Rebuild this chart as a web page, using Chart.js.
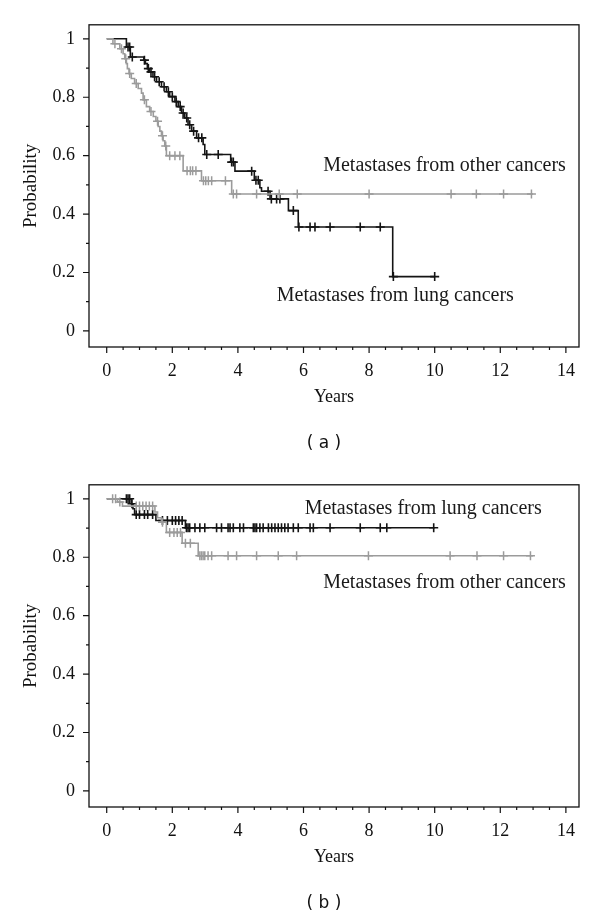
<!DOCTYPE html>
<html>
<head>
<meta charset="utf-8">
<script src="https://cdn.jsdelivr.net/npm/chart.js@4.4.1/dist/chart.umd.min.js"></script>
<style>
  body { margin: 0; background: #fff; }
  .panel { position: relative; width: 600px; height: 460px; }
  .cap { position: absolute; left: 0; width: 648px; text-align: center; top: 432px;
         font: 17px "DejaVu Sans", sans-serif; color: #111; }
</style>
</head>
<body>
<div class="panel"><canvas id="chartA" width="600" height="460"></canvas><div class="cap">( a )</div></div>
<div class="panel"><canvas id="chartB" width="600" height="460"></canvas><div class="cap">( b )</div></div>
<script>
// panel (a): step times and survival after each step, censor times
const aLungTimes = [0.60, 0.72, 1.13, 1.18, 1.24, 1.30, 1.41, 1.52, 1.67, 1.82, 1.92, 2.08, 2.18, 2.28, 2.38, 2.48, 2.59, 2.74, 2.94, 2.99, 3.78, 3.91, 4.50, 4.67, 4.72, 4.98, 5.54, 5.84, 8.72];
const aLungSurv = [0.972, 0.938, 0.927, 0.915, 0.898, 0.887, 0.870, 0.853, 0.836, 0.819, 0.802, 0.785, 0.768, 0.746, 0.729, 0.706, 0.684, 0.661, 0.638, 0.604, 0.578, 0.547, 0.516, 0.490, 0.478, 0.452, 0.412, 0.356, 0.186];
const aLungEnd = 10.0;
const aLungCensor = [0.65, 0.70, 0.78, 1.15, 1.27, 1.35, 1.46, 1.60, 1.75, 1.88, 2.00, 2.12, 2.24, 2.33, 2.44, 2.53, 2.65, 2.80, 2.90, 3.05, 3.40, 3.81, 3.86, 4.42, 4.55, 4.62, 4.92, 5.02, 5.18, 5.28, 5.69, 5.86, 6.20, 6.35, 6.81, 7.73, 8.34, 8.74, 10.0];

const aOtherTimes = [0.19, 0.40, 0.50, 0.55, 0.60, 0.63, 0.68, 0.75, 0.85, 0.96, 1.06, 1.11, 1.21, 1.31, 1.42, 1.50, 1.57, 1.62, 1.67, 1.72, 1.77, 1.82, 2.33, 2.89, 3.81];
const aOtherSurv = [0.983, 0.966, 0.949, 0.932, 0.915, 0.898, 0.881, 0.864, 0.847, 0.830, 0.814, 0.791, 0.768, 0.751, 0.734, 0.718, 0.700, 0.684, 0.668, 0.651, 0.633, 0.600, 0.548, 0.514, 0.469];
const aOtherEnd = 13.0;
const aOtherCensor = [0.25, 0.45, 0.58, 0.70, 0.90, 1.15, 1.35, 1.55, 1.70, 1.80, 1.92, 2.08, 2.23, 2.45, 2.55, 2.62, 2.72, 2.95, 3.02, 3.10, 3.20, 3.62, 3.86, 3.96, 4.57, 5.26, 5.81, 8.0, 10.5, 11.27, 12.1, 12.95];

// panel (b)
const bLungTimes = [0.75, 0.80, 0.85, 1.50, 2.40];
const bLungSurv = [0.983, 0.966, 0.946, 0.926, 0.901];
const bLungEnd = 10.0;
const bLungCensor = [0.60, 0.65, 0.70, 0.77, 0.90, 1.00, 1.15, 1.25, 1.40, 1.70, 1.85, 2.00, 2.10, 2.20, 2.30, 2.43, 2.48, 2.53, 2.69, 2.84, 2.99, 3.35, 3.50, 3.70, 3.76, 3.86, 4.06, 4.17, 4.47, 4.52, 4.57, 4.67, 4.77, 4.93, 5.03, 5.13, 5.23, 5.33, 5.43, 5.53, 5.69, 5.84, 6.20, 6.30, 6.81, 7.73, 8.34, 8.54, 9.97];

const bOtherTimes = [0.33, 0.48, 1.47, 1.55, 1.67, 1.82, 2.30, 2.79];
const bOtherSurv = [0.989, 0.975, 0.955, 0.935, 0.920, 0.885, 0.848, 0.805];
const bOtherEnd = 13.0;
const bOtherCensor = [0.18, 0.27, 0.40, 0.90, 1.00, 1.10, 1.20, 1.30, 1.40, 1.70, 1.92, 2.05, 2.15, 2.25, 2.40, 2.55, 2.84, 2.89, 2.94, 2.99, 3.09, 3.20, 3.70, 3.96, 4.57, 5.23, 5.79, 7.98, 10.47, 11.29, 12.10, 12.92];

const xTickLabels = ['0', '2', '4', '6', '8', '10', '12', '14'];
const yTickLabels = ['0', '0.2', '0.4', '0.6', '0.8', '1'];

const BLACK = '#141414';
const GRAY = '#9b9b9b';

function stepPoints(times, surv, end) {
  const pts = [{x: 0, y: 1}];
  times.forEach((t, i) => pts.push({x: t, y: surv[i]}));
  pts.push({x: end, y: surv[surv.length - 1]});
  return pts;
}

function censorPoints(censor, times, surv) {
  return censor.map(t => {
    let s = 1;
    times.forEach((tt, i) => { if (tt <= t) s = surv[i]; });
    return {x: t, y: s};
  });
}

// frame, tick marks and curve labels
const framePlugin = {
  id: 'frame',
  afterDraw(chart, args, opts) {
    const ctx = chart.ctx;
    const a = chart.chartArea;
    const xs = chart.scales.x, ys = chart.scales.y;
    ctx.save();
    ctx.strokeStyle = '#111';
    ctx.lineWidth = 1.3;
    ctx.strokeRect(a.left, a.top, a.right - a.left, a.bottom - a.top);
    ctx.lineWidth = 1.2;
    ctx.beginPath();
    xs.ticks.forEach(t => {
      if (t.value < 0) return;
      const px = xs.getPixelForValue(t.value);
      const major = Math.abs(t.value / 2 - Math.round(t.value / 2)) < 1e-6;
      ctx.moveTo(px, a.bottom);
      ctx.lineTo(px, a.bottom + (major ? 6 : 3));
    });
    ys.ticks.forEach(t => {
      if (t.value < -1e-6) return;
      const py = ys.getPixelForValue(t.value);
      const major = Math.round(t.value * 10) % 2 === 0;
      ctx.moveTo(a.left, py);
      ctx.lineTo(a.left - (major ? 6 : 3), py);
    });
    ctx.stroke();
    ctx.fillStyle = '#1a1a1a';
    ctx.font = '20px "Liberation Serif", serif';
    ctx.textAlign = 'center';
    ctx.textBaseline = 'middle';
    opts.labels.forEach(l => {
      ctx.fillText(l.text, xs.getPixelForValue(l.x), ys.getPixelForValue(l.y));
    });
    ctx.restore();
  }
};

function makeChart(id, lungT, lungS, lungEnd, lungC, otherT, otherS, otherEnd, otherC, labels) {
  return new Chart(document.getElementById(id), {
    type: 'scatter',
    data: {
      datasets: [
        {
          data: stepPoints(otherT, otherS, otherEnd),
          showLine: true, stepped: true,
          borderColor: GRAY, borderWidth: 1.6, pointRadius: 0
        },
        {
          data: censorPoints(otherC, otherT, otherS),
          pointStyle: 'cross', pointRadius: 4.5, borderWidth: 1.5,
          borderColor: GRAY, backgroundColor: GRAY
        },
        {
          data: stepPoints(lungT, lungS, lungEnd),
          showLine: true, stepped: true,
          borderColor: BLACK, borderWidth: 1.6, pointRadius: 0
        },
        {
          data: censorPoints(lungC, lungT, lungS),
          pointStyle: 'cross', pointRadius: 4.5, borderWidth: 1.6,
          borderColor: BLACK, backgroundColor: BLACK
        }
      ]
    },
    options: {
      responsive: false,
      animation: false,
      layout: {padding: {top: 21, right: 21, left: 0, bottom: 0}},
      plugins: {
        legend: {display: false},
        tooltip: {enabled: false},
        frame: {labels: labels}
      },
      scales: {
        x: {
          type: 'linear', min: -0.54, max: 14.4,
          afterFit(scale) { scale.height = 113; },
          grid: {display: false, drawTicks: false},
          border: {display: false},
          ticks: {
            stepSize: 0.5, includeBounds: false, autoSkip: false, maxRotation: 0, padding: 13,
            color: '#111', font: {family: '"Liberation Serif", serif', size: 18},
            callback: v => {
              const i = v / 2;
              return (v >= 0 && Math.abs(i - Math.round(i)) < 1e-6) ? xTickLabels[Math.round(i)] : '';
            }
          },
          title: {
            display: true, text: 'Years', color: '#111',
            font: {family: '"Liberation Serif", serif', size: 18},
            padding: {top: 0, bottom: 52}
          }
        },
        y: {
          min: -0.055, max: 1.048,
          afterFit(scale) { scale.width = 89; },
          grid: {display: false, drawTicks: false},
          border: {display: false},
          ticks: {
            stepSize: 0.1, includeBounds: false, autoSkip: false, padding: 14,
            color: '#111', font: {family: '"Liberation Serif", serif', size: 18},
            callback: v => {
              const k = Math.round(v * 10);
              return (k >= 0 && k % 2 === 0) ? yTickLabels[k / 2] : '';
            }
          },
          title: {
            display: true, text: 'Probability', color: '#111',
            font: {family: '"Liberation Serif", serif', size: 19},
            padding: {top: 20, bottom: 0}
          }
        }
      }
    },
    plugins: [framePlugin]
  });
}

const chartA = makeChart('chartA', aLungTimes, aLungSurv, aLungEnd, aLungCensor,
  aOtherTimes, aOtherSurv, aOtherEnd, aOtherCensor, [
    {text: 'Metastases from other cancers', x: 10.3, y: 0.566},
    {text: 'Metastases from lung cancers', x: 8.8, y: 0.119}
  ]);

const chartB = makeChart('chartB', bLungTimes, bLungSurv, bLungEnd, bLungCensor,
  bOtherTimes, bOtherSurv, bOtherEnd, bOtherCensor, [
    {text: 'Metastases from lung cancers', x: 9.65, y: 0.966},
    {text: 'Metastases from other cancers', x: 10.3, y: 0.712}
  ]);
</script>
</body>
</html>
